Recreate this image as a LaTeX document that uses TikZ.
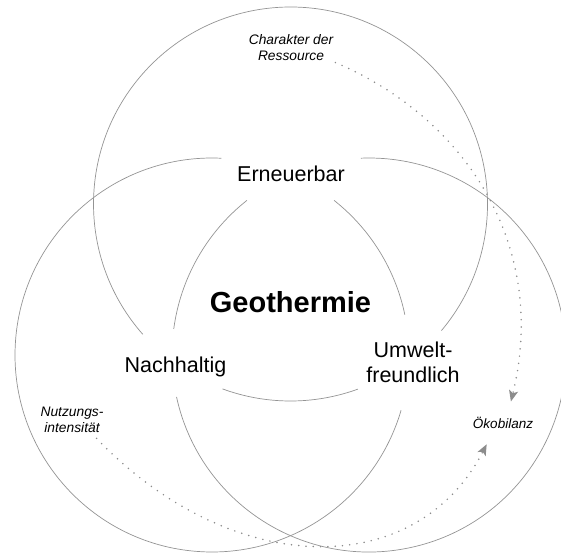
\documentclass[tikz,border=0pt]{standalone}
\usepackage{fontspec}
\setmainfont{Liberation Sans}
\usetikzlibrary{arrows.meta}

\begin{document}
\begin{tikzpicture}[x=1pt,y=1pt,
    ring/.style={draw=black!42,line width=0.7pt},
    lbl/.style={font=\fontsize{21.5}{25}\selectfont,align=center,inner sep=0pt},
    note/.style={font=\itshape\fontsize{13.8}{15.5}\selectfont,align=center,inner sep=2pt},
    dotarrow/.style={draw=black!45,line width=1.7pt,line cap=round,dash pattern=on 0pt off 7.3pt,
        -{Stealth[length=11pt,width=9pt,inset=2.5pt,fill=black!45]}}]
\clip (0,0) rectangle (561,-553);

\coordinate (ct) at (290.5,-204);
\coordinate (cl) at (212,-355);
\coordinate (cr) at (369,-355);

% die drei Kreise, mit Luecken bei den Begriffen
\draw[ring] (ct) ++(320:197) arc[start angle=320,end angle=581.4,radius=197];
\draw[ring] (ct) ++(249.8:197) arc[start angle=249.8,end angle=290,radius=197];
\draw[ring] (cl) ++(11.8:197) arc[start angle=11.8,end angle=51.7,radius=197];
\draw[ring] (cl) ++(87.3:197) arc[start angle=87.3,end angle=343.7,radius=197];
\draw[ring] (cr) ++(128.3:197) arc[start angle=128.3,end angle=172.4,radius=197];
\draw[ring] (cr) ++(192.3:197) arc[start angle=192.3,end angle=452.4,radius=197];

\node[lbl,anchor=base] (ern) at (291,-182) {Erneuerbar};
\node[lbl,anchor=base] (nach) at (175.5,-372) {Nachhaltig};
\node[lbl] (umw) at (413,-362.5) {Umwelt-\\freundlich};
\node[lbl,anchor=base,font=\bfseries\fontsize{29}{33}\selectfont] (geo) at (290.5,-312) {Geothermie};

\node[note] (char) at (291,-47.5) {Charakter der\\Ressource};
\node[note] (nutz) at (72,-420) {Nutzungs-\\intensität};
\node[note,font=\itshape\fontsize{13.5}{15}\selectfont] (oeko) at (503,-423) {Ökobilanz};

\draw[dotarrow,shorten >=14pt] (char.south east) .. controls (470,-120) and (548,-250) .. (oeko.60);
\draw[dotarrow,shorten <=5pt,shorten >=15pt] (nutz.-35) .. controls (230,-578) and (415,-583) .. (oeko.-140);
\end{tikzpicture}
\end{document}
